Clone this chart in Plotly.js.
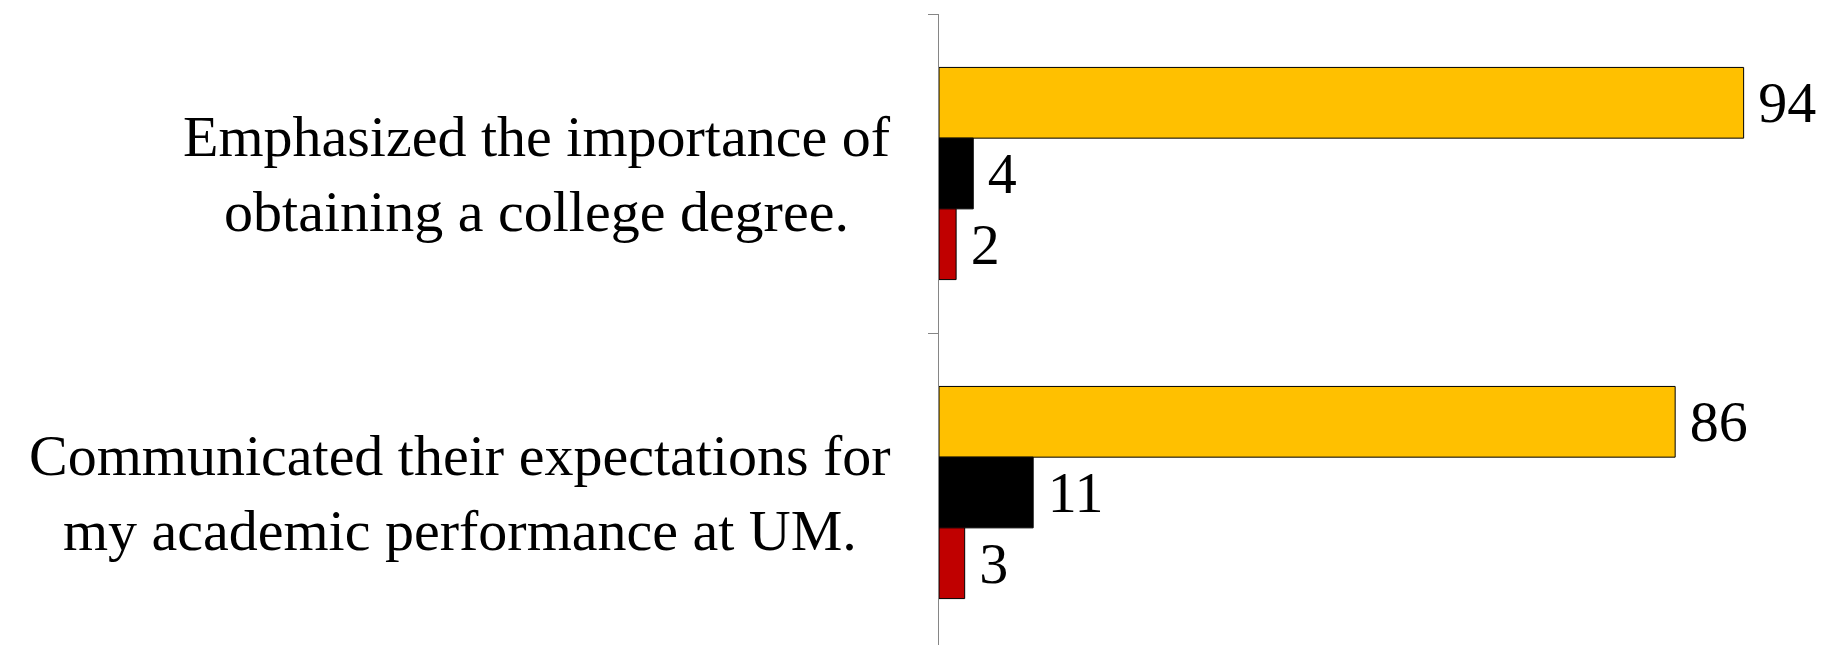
<!DOCTYPE html>
<html>
<head>
<meta charset="utf-8">
<script src="https://cdn.plot.ly/plotly-3.0.1.min.js"></script>
<style>html,body{margin:0;padding:0;background:#fff;}#chart{width:1821px;height:645px;}</style>
</head>
<body>
<div id="chart"></div>
<script>
const categories = [
  "Emphasized the importance of<br>obtaining a college degree.",
  "Communicated their expectations for<br>my academic performance at UM."
];
const seriesNames = ["Agree", "Neutral", "Disagree"];
const seriesA = [94, 86];
const seriesB = [4, 11];
const seriesC = [2, 3];
const colors = ["#FFC000", "#000000", "#C00000"];

const FONT = "Liberation Serif, Times New Roman, serif";
const vals = [seriesA, seriesB, seriesC];
const traces = vals.map((v, i) => ({
  type: "bar",
  orientation: "h",
  name: seriesNames[i],
  x: v,
  y: categories,
  marker: {color: colors[i], line: {color: "#000000", width: 1}},
  text: v.map(String),
  texttemplate: "\u2009%{x}",
  textposition: "outside",
  constraintext: "none",
  cliponaxis: false,
  textfont: {family: FONT, size: 58, color: "#000000"},
  hoverinfo: "skip"
}));

const annotations = categories.map(c => ({
  xref: "paper", yref: "y", x: 0, y: c,
  xanchor: "right", yanchor: "middle", align: "center",
  xshift: -46, showarrow: false,
  text: c,
  font: {family: FONT, size: 58, color: "#000000"}
}));

const layout = {
  width: 1821, height: 645,
  margin: {l: 939, r: 26, t: 14, b: 0},
  paper_bgcolor: "#ffffff", plot_bgcolor: "#ffffff",
  showlegend: false,
  barmode: "group",
  bargap: 0.335,
  bargroupgap: 0,
  xaxis: {range: [0, 100], visible: false, fixedrange: true},
  yaxis: {
    type: "category",
    range: [1.478, -0.5],
    showline: true, linecolor: "#868686", linewidth: 1,
    ticks: "outside", tickson: "boundaries", ticklen: 10, tickcolor: "#868686", tickwidth: 1,
    showticklabels: false, showgrid: false, zeroline: false
  },
  annotations: annotations
};

Plotly.newPlot("chart", traces, layout, {displayModeBar: false, staticPlot: true});
</script>
</body>
</html>
